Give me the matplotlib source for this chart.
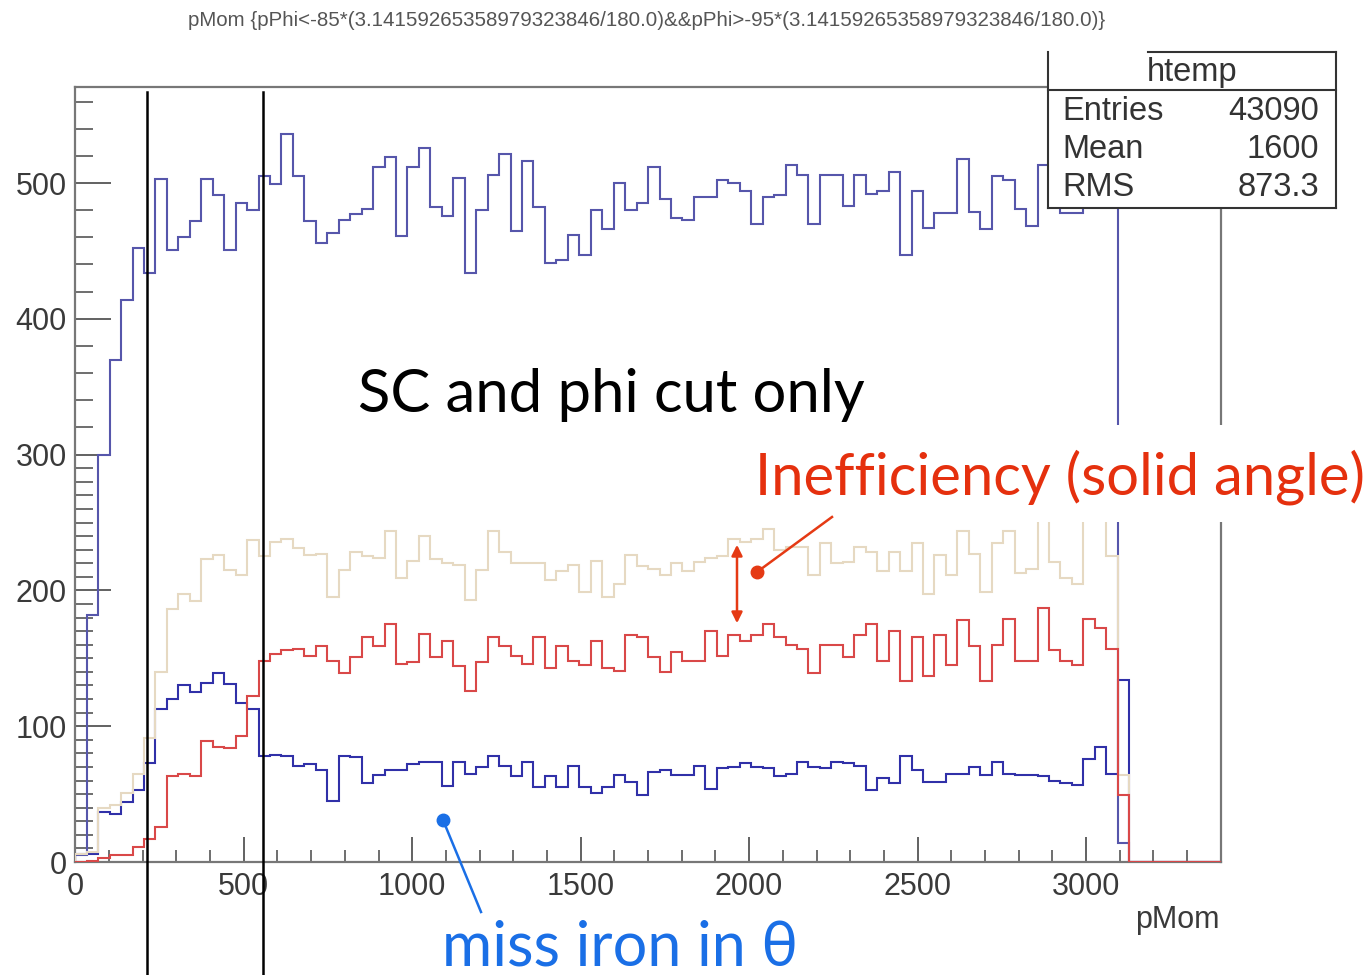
import matplotlib
matplotlib.use('Agg')
import matplotlib.pyplot as plt
import matplotlib.ticker as mticker
from matplotlib.patches import Rectangle, FancyArrowPatch
from matplotlib.lines import Line2D
import numpy as np

W, H = 1372, 975

# 100 bins of width 34 from 0 to 3400 (ROOT htemp)
edges = np.arange(0, 3401, 34)

# pMom, SC and phi cut (top blue)
h_all = [5, 182, 300, 370, 414, 452, 434, 503, 451, 460,
         472, 503, 491, 451, 485, 480, 505, 499, 536, 505,
         472, 456, 463, 473, 477, 481, 512, 519, 461, 512,
         526, 482, 476, 504, 434, 480, 506, 521, 465, 516,
         482, 441, 443, 462, 447, 480, 466, 500, 480, 485,
         512, 488, 474, 473, 490, 490, 502, 500, 494, 470,
         490, 491, 513, 506, 470, 506, 506, 483, 506, 492,
         494, 508, 447, 494, 467, 478, 478, 518, 479, 466,
         505, 502, 481, 468, 513, 490, 478, 478, 500, 505,
         495, 14, 0, 0, 0, 0, 0, 0, 0, 0]

# beige
h_tan = [6, 7, 40, 42, 51, 65, 91, 140, 186, 197,
         192, 223, 226, 215, 211, 237, 225, 236, 238, 231,
         226, 227, 195, 215, 228, 225, 224, 244, 209, 222,
         240, 223, 220, 219, 193, 215, 244, 228, 220, 220,
         220, 208, 214, 219, 199, 222, 195, 205, 226, 218,
         216, 211, 220, 214, 221, 224, 225, 238, 236, 238,
         245, 230, 232, 232, 211, 235, 220, 221, 232, 228,
         214, 228, 214, 235, 197, 226, 211, 244, 227, 199,
         235, 244, 213, 216, 255, 221, 209, 205, 262, 258,
         225, 64, 0, 0, 0, 0, 0, 0, 0, 0]

# red
h_red = [0, 1, 3, 5, 5, 11, 17, 26, 63, 65,
         63, 89, 85, 84, 93, 122, 148, 153, 156, 157,
         152, 159, 148, 139, 151, 166, 159, 175, 146, 147,
         168, 151, 163, 144, 126, 147, 166, 159, 152, 146,
         166, 143, 159, 148, 145, 163, 143, 141, 167, 166,
         151, 140, 155, 148, 148, 170, 152, 167, 163, 167,
         175, 166, 160, 157, 139, 160, 160, 151, 167, 175,
         148, 170, 133, 166, 137, 167, 145, 178, 159, 133,
         160, 179, 148, 148, 187, 156, 148, 145, 179, 172,
         157, 49, 0, 0, 0, 0, 0, 0, 0, 0]

# bottom blue (miss iron in theta)
h_miss = [6, 6, 37, 35, 44, 53, 73, 113, 120, 130,
          125, 132, 139, 131, 117, 113, 78, 79, 78, 71,
          72, 68, 45, 78, 77, 58, 64, 68, 68, 72,
          74, 74, 56, 74, 65, 70, 78, 71, 63, 74,
          55, 63, 55, 71, 55, 51, 55, 64, 59, 49,
          66, 68, 64, 64, 71, 54, 69, 70, 73, 70,
          69, 63, 65, 74, 70, 69, 74, 73, 71, 53,
          62, 58, 78, 68, 59, 59, 65, 65, 70, 64,
          74, 65, 64, 64, 63, 60, 58, 57, 76, 85,
          65, 134, 0, 0, 0, 0, 0, 0, 0, 0]

title = 'pMom {pPhi<-85*(3.14159265358979323846/180.0)&&pPhi>-95*(3.14159265358979323846/180.0)}'
stat_names = ['Entries', 'Mean', 'RMS']
stat_vals = ['43090', '1600', '873.3']


def fx(px):
    return px / W


def fy(py):
    return 1 - py / H


fig = plt.figure(figsize=(W / 100, H / 100), dpi=100)
ax = fig.add_axes([fx(75.3), fy(862), (1220.8 - 75.3) / W, (862 - 87) / H])

ax.stairs(h_all, edges, color='#5656ab', lw=1.5, zorder=2)
ax.stairs(h_miss, edges, color='#3030a8', lw=1.5, zorder=3)
ax.stairs(h_tan, edges, color='#e6d9c2', lw=1.5, zorder=4)
ax.stairs(h_red, edges, color='#d94848', lw=1.5, zorder=5)

ax.set_xlim(0, 3400)
ax.set_ylim(0, 570.7)

ax.set_xticks(range(0, 3001, 500))
ax.xaxis.set_minor_locator(mticker.FixedLocator(range(0, 3401, 100)))
ax.set_yticks(range(0, 501, 100))
ymin = list(range(10, 300, 10)) + list(range(320, 570, 20))
ax.yaxis.set_minor_locator(mticker.FixedLocator(ymin))

for lab in ax.get_xticklabels() + ax.get_yticklabels():
    lab.set_family('Liberation Sans')
ax.tick_params(axis='x', which='major', direction='in', length=18, width=1.3,
               color='#555555', labelcolor='#3a3a3a', labelsize=22, pad=7)
ax.tick_params(axis='x', which='minor', direction='in', length=9, width=1.2, color='#555555')
ax.tick_params(axis='y', which='major', direction='in', length=26, width=1.3,
               color='#555555', labelcolor='#3a3a3a', labelsize=22, pad=6)
ax.tick_params(axis='y', which='minor', direction='in', length=13, width=1.2, color='#555555')
for s in ax.spines.values():
    s.set_color('#777777')
    s.set_linewidth(1.6)

# title and axis label
fig.text(fx(647), fy(21), title, ha='center', va='center', fontsize=14.8,
         color='#555555', family='Liberation Sans')
fig.text(fx(1220), fy(928), 'pMom', ha='right', va='baseline', fontsize=22,
         color='#3a3a3a', family='Liberation Sans')

# stats box
fig.patches.append(Rectangle((fx(1048), fy(208)), (1336 - 1048) / W, (208 - 52) / H,
                             transform=fig.transFigure, facecolor='white',
                             edgecolor='none', zorder=1))
box_lines = [((1048, 1048), (52, 208)), ((1336, 1336), (52, 208)),
             ((1048, 1336), (208, 208)), ((1148, 1336), (52, 52)),
             ((1048, 1336), (90, 90))]
for xs, ys in box_lines:
    fig.add_artist(Line2D([fx(v) for v in xs], [fy(v) for v in ys],
                          transform=fig.transFigure, color='#333333', lw=1.5, zorder=2))
fig.text(fx(1192), fy(72), 'htemp', ha='center', va='center', fontsize=23.5,
         color='#333333', family='Liberation Sans', zorder=3)
for i, (n, v) in enumerate(zip(stat_names, stat_vals)):
    yy = fy(111 + 38 * i)
    fig.text(fx(1062), yy, n, ha='left', va='center', fontsize=23.5,
             color='#333333', family='Liberation Sans', zorder=3)
    fig.text(fx(1319), yy, v, ha='right', va='center', fontsize=23.5,
             color='#333333', family='Liberation Sans', zorder=3)

# cut lines
for xc in (147, 263):
    fig.add_artist(Line2D([fx(xc), fx(xc)], [fy(92), fy(975)], transform=fig.transFigure,
                          color='black', lw=1.8, zorder=2))

# annotations
fig.text(fx(358), fy(412), 'SC and phi cut only', ha='left', va='baseline',
         fontsize=43, color='black', family=['Lato', 'DejaVu Sans'], zorder=3)

fig.patches.append(Rectangle((fx(745), fy(522)), (W - 745) / W, (522 - 425) / H,
                             transform=fig.transFigure, facecolor='white',
                             edgecolor='none', zorder=1))
fig.text(fx(755), fy(494), 'Inefficiency (solid angle)', ha='left', va='baseline',
         fontsize=41.8, color='#e5300e', family=['Lato', 'DejaVu Sans'], zorder=3)
fig.text(fx(442), fy(965), 'miss iron in \u03b8', ha='left', va='baseline',
         fontsize=44, color='#1a6fe6', family=['Lato', 'DejaVu Sans'], zorder=3)

red_c = '#e53a14'
fig.add_artist(FancyArrowPatch((fx(737), fy(626)), (fx(737), fy(542)),
                               transform=fig.transFigure, arrowstyle='<|-|>',
                               mutation_scale=16, color=red_c, lw=1.8, zorder=4))
fig.add_artist(Line2D([fx(757), fx(832)], [fy(572), fy(517)], transform=fig.transFigure,
                      color=red_c, lw=1.8, zorder=4))
fig.add_artist(Line2D([fx(757)], [fy(572)], transform=fig.transFigure, marker='o',
                      ms=9, color=red_c, zorder=4))

blue_c = '#1a6fe6'
fig.add_artist(Line2D([fx(443), fx(481)], [fy(820), fy(912)], transform=fig.transFigure,
                      color=blue_c, lw=1.8, zorder=4))
fig.add_artist(Line2D([fx(443)], [fy(820)], transform=fig.transFigure, marker='o',
                      ms=9, color=blue_c, zorder=4))

fig.savefig('out.png', dpi=100)
